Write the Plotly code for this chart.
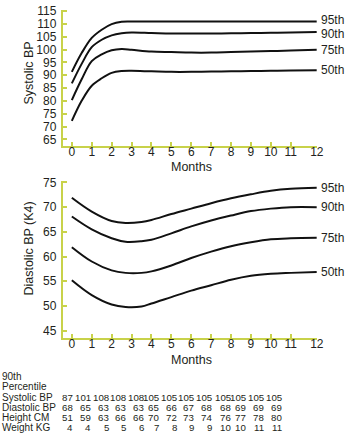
import plotly.graph_objects as go

W, H = 350, 433
FONT = "Liberation Sans, Arial, sans-serif"
TXT = "#231f20"
AXC = "#c8d24a"

# ---------------- data ----------------
MONTH_TICKS = list(range(13))
SYS_MONTHS = [0, 0.5, 1, 1.5, 2, 2.5, 3, 4, 5, 6, 7, 8, 9, 10, 11, 12]
SYS_95 = [91.3, 98.7, 104.5, 107.7, 109.9, 110.8, 110.9, 110.9, 110.9, 110.9, 110.9, 110.9, 110.9, 110.9, 110.9, 110.9]
SYS_90 = [86.8, 94.5, 100.9, 103.8, 105.5, 106.3, 106.6, 106.4, 106.2, 106.2, 106.2, 106.3, 106.4, 106.5, 106.6, 106.8]
SYS_75 = [80.3, 88.5, 95.5, 98.1, 99.7, 100.2, 99.9, 99.2, 99.0, 98.8, 98.8, 99.0, 99.2, 99.4, 99.6, 99.9]
SYS_50 = [72.2, 80.1, 85.9, 88.8, 90.9, 91.6, 91.7, 91.5, 91.3, 91.3, 91.4, 91.5, 91.6, 91.7, 91.8, 91.9]

DIA_MONTHS = [0, 1, 2, 2.7, 3.5, 4, 5, 6, 7, 8, 9, 10, 11, 12]
DIA_95 = [71.9, 69.1, 67.2, 66.8, 67.0, 67.4, 68.6, 69.7, 70.8, 71.8, 72.6, 73.3, 73.7, 73.9]
DIA_90 = [68.1, 65.5, 63.7, 63.0, 63.1, 63.4, 64.7, 66.1, 67.3, 68.3, 69.2, 69.7, 70.0, 70.0]
DIA_75 = [61.9, 59.0, 57.2, 56.7, 56.7, 57.0, 58.2, 59.7, 61.0, 62.1, 62.9, 63.5, 63.7, 63.8]
DIA_50 = [55.2, 52.2, 50.3, 49.8, 49.9, 50.5, 51.8, 53.1, 54.2, 55.3, 56.1, 56.5, 56.7, 56.9]

PCT_LABELS = ["95th", "90th", "75th", "50th"]

TABLE_TITLE = ["90th", "Percentile"]
ROW_LABELS = ["Systolic BP", "Diastolic BP", "Height CM", "Weight KG"]
ROW_SYS = [87, 101, 108, 108, 108, 105, 105, 105, 105, 105, 105, 105, 105]
ROW_DIA = [68, 65, 63, 63, 63, 65, 66, 67, 68, 68, 69, 69, 69]
ROW_HT = [51, 59, 63, 66, 66, 70, 72, 73, 74, 76, 77, 78, 80]
ROW_WT = [4, 4, 5, 5, 6, 7, 8, 9, 9, 10, 10, 11, 11]

# ---------------- layout helpers ----------------
# printed month scale: last interval (11 -> 12) is drawn wider
def pos(m):
    return m if m <= 11 else 11 + (m - 11) * 1.31

X_RANGE = [-0.458, pos(12)]
COL_RIGHT_PX = [76.5, 95, 113, 131, 149, 164, 182.7, 200, 218.3, 237.3, 252.7, 271.7, 290]
ROW_Y_PX = [375.5, 386, 396.6, 407, 417.3, 427.7]
SYS_LABEL_SHIFT = [1.5, -1.5, 0, 0]

fig = go.Figure()

for vals in [SYS_95, SYS_90, SYS_75, SYS_50]:
    fig.add_trace(go.Scatter(x=[pos(m) for m in SYS_MONTHS], y=vals, mode="lines",
                             line=dict(color="#111111", width=2, shape="spline", smoothing=1.0),
                             xaxis="x", yaxis="y", hoverinfo="skip"))
for vals in [DIA_95, DIA_90, DIA_75, DIA_50]:
    fig.add_trace(go.Scatter(x=[pos(m) for m in DIA_MONTHS], y=vals, mode="lines",
                             line=dict(color="#111111", width=2, shape="spline", smoothing=1.0),
                             xaxis="x2", yaxis="y2", hoverinfo="skip"))

def px_dom(a, b, total):
    return [a / total, b / total]

axis_common = dict(showline=True, linecolor=AXC, linewidth=2, ticks="inside", ticklen=4,
                   tickcolor=AXC, tickwidth=1.5, showgrid=False, zeroline=False,
                   tickfont=dict(family=FONT, size=12, color=TXT), fixedrange=True)

xdom = px_dom(64, 323.3, W)
xaxis_cfg = dict(axis_common, domain=xdom, range=X_RANGE,
                 tickvals=[pos(m) for m in MONTH_TICKS], ticktext=[str(m) for m in MONTH_TICKS],
                 ticklabelstandoff=-7)

fig.update_layout(
    width=W, height=H, margin=dict(l=0, r=0, t=0, b=0),
    paper_bgcolor="white", plot_bgcolor="white", showlegend=False,
    xaxis=dict(xaxis_cfg, anchor="y"),
    yaxis=dict(axis_common, domain=[1 - 143 / H, 1 - 5 / H], range=[62.3, 115.4],
               tickvals=list(range(65, 116, 5)), anchor="x", ticklabelstandoff=2),
    xaxis2=dict(xaxis_cfg, anchor="y2"),
    yaxis2=dict(axis_common, domain=[1 - 337 / H, 1 - 178 / H], range=[43.5, 75.3],
                tickvals=list(range(45, 76, 5)), anchor="x2", ticklabelstandoff=2),
)

ann = []
def text(x_px, y_px, s, size=12, xanchor="center", angle=0):
    ann.append(dict(xref="paper", yref="paper", x=x_px / W, y=1 - y_px / H, text=s,
                    showarrow=False, xanchor=xanchor, yanchor="middle", textangle=angle,
                    font=dict(family=FONT, size=size, color=TXT)))

# axis titles
text(195, 163.5, "Months", size=12.5)
text(195, 359.5, "Months", size=12.5)
text(30, 69, "Systolic BP", size=12.5, angle=-90)
text(30, 246, "Diastolic BP (K4)", size=12.5, angle=-90)

# percentile labels at line ends
for lab, vals, ys in zip(PCT_LABELS, [SYS_95, SYS_90, SYS_75, SYS_50], SYS_LABEL_SHIFT):
    ann.append(dict(xref="x", yref="y", x=pos(12), y=vals[-1], text=lab, showarrow=False,
                    xanchor="left", yanchor="middle", xshift=2, yshift=ys,
                    font=dict(family=FONT, size=12, color=TXT)))
for lab, vals in zip(PCT_LABELS, [DIA_95, DIA_90, DIA_75, DIA_50]):
    ann.append(dict(xref="x2", yref="y2", x=pos(12), y=vals[-1], text=lab, showarrow=False,
                    xanchor="left", yanchor="middle", xshift=2,
                    font=dict(family=FONT, size=12, color=TXT)))

# table
TS = 10
NS = 9.7
text(0, ROW_Y_PX[0], TABLE_TITLE[0], size=TS, xanchor="left")
text(0, ROW_Y_PX[1], TABLE_TITLE[1], size=TS, xanchor="left")
for i, (lab, row) in enumerate(zip(ROW_LABELS, [ROW_SYS, ROW_DIA, ROW_HT, ROW_WT])):
    y = ROW_Y_PX[i + 2]
    text(0, y, lab, size=TS, xanchor="left")
    for xr, v in zip(COL_RIGHT_PX, row):
        text(xr, y, str(v), size=NS, xanchor="right")

fig.update_layout(annotations=ann)
fig.write_html("out.html")
